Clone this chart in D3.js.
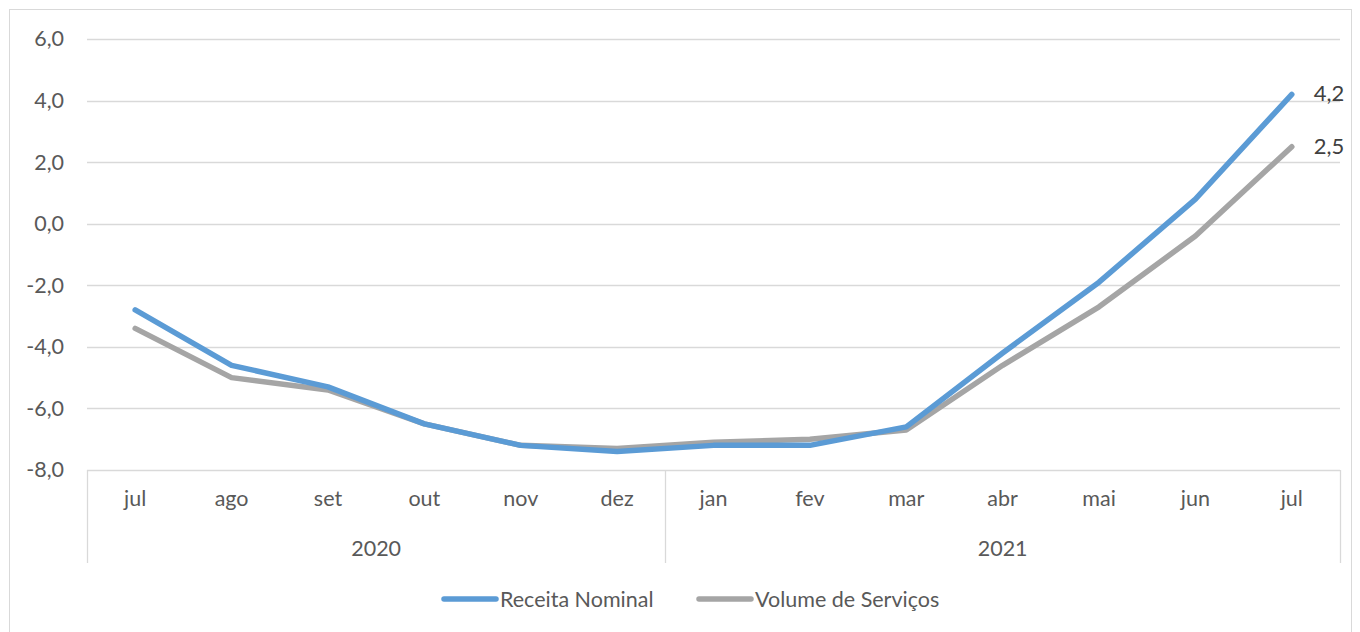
<!DOCTYPE html>
<html><head><meta charset="utf-8">
<script src="https://cdn.jsdelivr.net/npm/d3@7"></script>
<style>body{margin:0;background:#fff}svg{display:block}text{font-family:Lato,"Open Sans",sans-serif}</style>
</head><body><svg id="c" width="1360" height="632"></svg>
<script>
const months = ["jul","ago","set","out","nov","dez","jan","fev","mar","abr","mai","jun","jul"];
const years = [{label:"2020", from:0, to:6},{label:"2021", from:6, to:13}];
const receita = [-2.8,-4.6,-5.3,-6.5,-7.2,-7.4,-7.2,-7.2,-6.6,-4.2,-1.9,0.8,4.2];
const volume = [-3.4,-5.0,-5.4,-6.5,-7.2,-7.3,-7.1,-7.0,-6.7,-4.6,-2.7,-0.4,2.5];
const yTicks = [6,4,2,0,-2,-4,-6,-8];
const seriesNames = ["Receita Nominal","Volume de Serviços"];
const colors = ["#5B9BD5","#A5A5A5"];

const svg = d3.select("#c");
const L=87, R=1340, T=39, B=470;
const FS=21.5;
svg.append("rect").attr("x",9.5).attr("y",9.5).attr("width",1342).attr("height",640)
  .attr("fill","none").attr("stroke","#d9d9d9").attr("stroke-width",1);

const x = d3.scaleBand().domain(d3.range(months.length)).range([L,R]);
const y = d3.scaleLinear().domain([-8,6]).range([B,T]);
const fmt = v => d3.format(".1f")(v).replace(".",",").replace("−","-");

// grid
svg.append("g").selectAll("line").data(yTicks.filter(v=>v>-8)).join("line")
  .attr("x1",L).attr("x2",R).attr("y1",d=>Math.round(y(d))+0.5).attr("y2",d=>Math.round(y(d))+0.5)
  .attr("stroke","#d9d9d9").attr("stroke-width",1.3);

// y labels
const ya = d3.axisLeft(y).tickValues(yTicks).tickFormat(fmt).tickSize(0).tickPadding(23);
const yg = svg.append("g").attr("transform",`translate(${L},0)`).call(ya);
yg.select(".domain").remove();
yg.selectAll("text").attr("font-size",FS).attr("fill","#595959");

// category axis
const ax = svg.append("g");
ax.append("line").attr("x1",L).attr("x2",R).attr("y1",B+0.5).attr("y2",B+0.5).attr("stroke","#d9d9d9").attr("stroke-width",1.3);
const divs = [0,6,13].map(i=> i<months.length ? x(i) : R);
ax.selectAll("line.div").data(divs).join("line").attr("class","div")
  .attr("x1",d=>Math.round(d)+0.5).attr("x2",d=>Math.round(d)+0.5).attr("y1",B).attr("y2",563)
  .attr("stroke","#d9d9d9").attr("stroke-width",1.3);
const xa = d3.axisBottom(x).tickFormat(i=>months[i]).tickSize(0).tickPadding(21);
const xg = svg.append("g").attr("transform",`translate(0,${B})`).call(xa);
xg.select(".domain").remove();
xg.selectAll("text").attr("font-size",FS).attr("fill","#595959");
ax.selectAll("text.yr").data(years).join("text").attr("class","yr")
  .attr("x",d=>(x(d.from)+(d.to<months.length?x(d.to):R))/2).attr("y",556)
  .attr("text-anchor","middle").attr("font-size",FS).attr("fill","#595959").text(d=>d.label);

// lines
const line = d3.line().x((d,i)=>x(i)+x.bandwidth()/2).y(d=>y(d));
[volume, receita].forEach((s,k)=>{
  const ci = k===0?1:0;
  svg.append("path").datum(s).attr("d",line).attr("fill","none")
    .attr("stroke",colors[ci]).attr("stroke-width",5.5).attr("stroke-linecap","round").attr("stroke-linejoin","round");
});
// end labels
[[receita,0],[volume,1]].forEach(([s,k])=>{
  const n=s.length-1;
  svg.append("text").attr("x",x(n)+x.bandwidth()/2+22).attr("y",y(s[n])+7)
    .attr("font-size",22).attr("fill","#404040").text(fmt(s[n]));
});

// legend
const lg = svg.append("g");
const lx = [441,696];
seriesNames.forEach((n,i)=>{
  lg.append("line").attr("x1",lx[i]+3).attr("x2",lx[i]+55).attr("y1",599).attr("y2",599)
    .attr("stroke",colors[i]).attr("stroke-width",5.5).attr("stroke-linecap","round");
  lg.append("text").attr("x",lx[i]+59).attr("y",607).attr("font-size",FS).attr("fill","#595959").text(n);
});
</script></body></html>
